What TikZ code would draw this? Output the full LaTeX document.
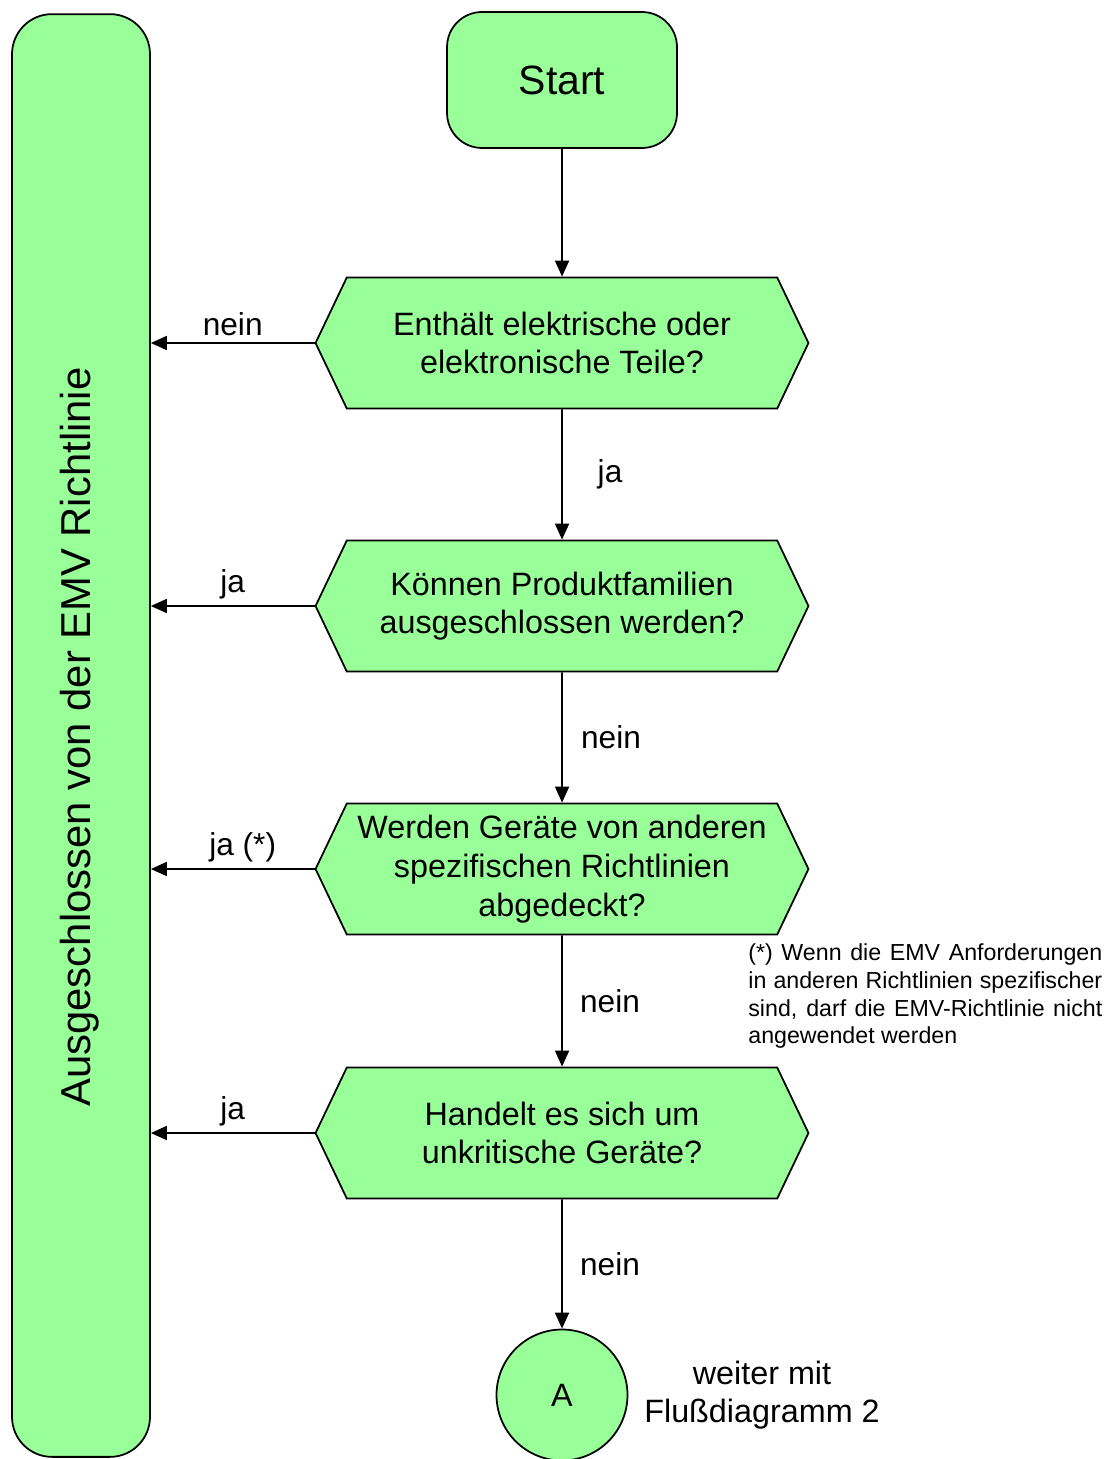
\documentclass[tikz,border=0pt]{standalone}
\usepackage{fontspec}
\setmainfont{Liberation Sans}
\usetikzlibrary{shapes.symbols,arrows.meta}
\definecolor{boxgreen}{RGB}{153,255,153}

\begin{document}
\begin{tikzpicture}[x=0.02cm,y=-0.02cm,
	box/.style={draw,fill=boxgreen,line width=1pt},
	frage/.style={box,shape=signal,signal to=west and east,signal pointer angle=129,
		minimum width=9.86cm,minimum height=2.62cm,inner sep=0pt,align=center,
		font=\fontsize{18.4}{22}\selectfont},
	pfeil/.style={-{Triangle[length=0.32cm,width=0.28cm]},line width=1pt},
	lbl/.style={font=\fontsize{18}{22}\selectfont}]
	\useasboundingbox (0,0) rectangle (1111,1459);
	%Left box: excluded
	\coordinate (cExcl) at (81,735.5);
	\node [box,rounded corners=0.8cm,minimum width=2.76cm,minimum height=28.86cm] (excl) at (cExcl) {};
	\node [rotate=90,font=\fontsize{23.8}{28}\selectfont] (exclText) at (80,737) {Ausgeschlossen von der EMV Richtlinie};
	%Start
	\coordinate (cStart) at (562,80);
	\node [box,rounded corners=0.7cm,minimum width=4.6cm,minimum height=2.72cm,font=\fontsize{23.3}{27}\selectfont] (start) at (cStart) {Start};
	%Questions
	\coordinate (cFrage1) at (562,343);
	\coordinate (cFrage2) at (562,606);
	\coordinate (cFrage3) at (562,869);
	\coordinate (cFrage4) at (562,1133);
	\node [frage] (frage1) at (cFrage1) {Enthält elektrische oder\\elektronische Teile?};
	\node [frage] (frage2) at (cFrage2) {Können Produktfamilien\\ausgeschlossen werden?};
	\node [frage] (frage3) at (cFrage3) {Werden Geräte von anderen\\spezifischen Richtlinien\\abgedeckt?};
	\node [frage] (frage4) at (cFrage4) {Handelt es sich um\\unkritische Geräte?};
	%Connector A
	\coordinate (cA) at (562,1395);
	\node [box,circle,minimum size=2.62cm,font=\fontsize{18.4}{22}\selectfont] (anschlussA) at (cA) {A};
	\node [lbl,align=center,font=\fontsize{18.4}{22}\selectfont] (weiter) at (762,1395) {weiter mit\\Flußdiagramm 2};
	%Footnote
	\node [anchor=north west,inner sep=0pt,text width=7.08cm,align=justify,font=\fontsize{13.2}{15.9}\selectfont] (fussnote) at (748,943) {(*) Wenn die EMV Anforderungen\linebreak in anderen Richtlinien spezifischer\linebreak sind, darf die EMV-Richtlinie nicht\linebreak angewendet werden};
	%Arrows down
	\draw [pfeil] (start) -- (frage1);
	\draw [pfeil] (frage1) -- node [lbl,xshift=0.96cm] {ja} (frage2);
	\draw [pfeil] (frage2) -- node [lbl,xshift=0.98cm] {nein} (frage3);
	\draw [pfeil] (frage3) -- node [lbl,xshift=0.96cm] {nein} (frage4);
	\draw [pfeil] (frage4) -- node [lbl,xshift=0.96cm] {nein} (anschlussA);
	%Arrows left
	\draw [pfeil] (frage1.west) -- node [lbl,above] {nein} (frage1.west -| excl.east);
	\draw [pfeil] (frage2.west) -- node [lbl,above] {ja} (frage2.west -| excl.east);
	\draw [pfeil] (frage3.west) -- node [lbl,above,xshift=0.2cm] {ja (*)} (frage3.west -| excl.east);
	\draw [pfeil] (frage4.west) -- node [lbl,above] {ja} (frage4.west -| excl.east);
\end{tikzpicture}
\end{document}
